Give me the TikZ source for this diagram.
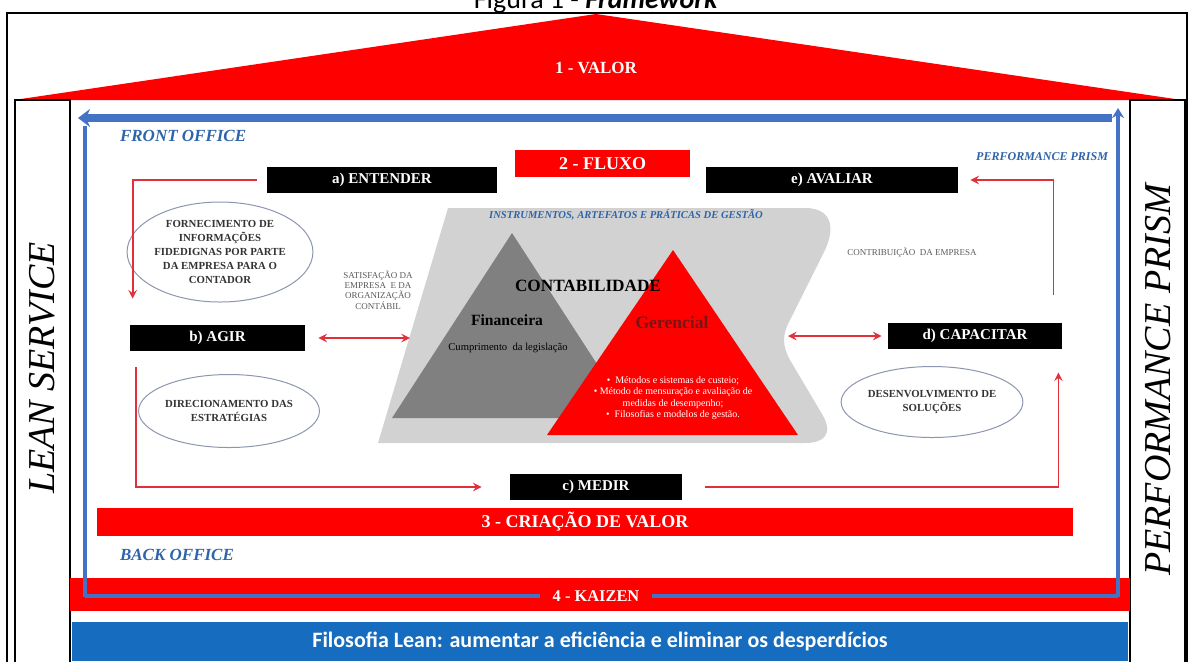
\documentclass[tikz,border=0pt]{standalone}
\usepackage{fontspec}
\setmainfont{Liberation Serif}
\newfontfamily\calibfont{Carlito}
\usetikzlibrary{shapes.geometric, arrows.meta}
\definecolor{loopblue}{RGB}{68,114,196}
\definecolor{barblue}{RGB}{22,108,190}
\definecolor{flowred}{RGB}{226,48,58}
\definecolor{shadegray}{RGB}{210,210,210}
\definecolor{fingray}{RGB}{128,128,128}
\definecolor{officeblue}{RGB}{46,100,170}
\definecolor{ovalline}{RGB}{140,150,175}
\definecolor{gerdark}{RGB}{120,20,20}
\newcommand{\sz}[2]{\fontsize{#1}{#2}\selectfont}

\begin{document}
\begin{tikzpicture}[x=0.5pt, y=-0.5pt,
	blackbox/.style={fill=black, text=white, inner sep=0pt, font=\bfseries\sz{7.5}{9}},
	redbar/.style={fill=red, text=white, inner sep=0pt, font=\bfseries\sz{9}{11}},
	oval/.style={ellipse, draw=ovalline, line width=0.5pt, fill=white, inner sep=0pt, align=center, text=black!80, font=\bfseries\sz{5.4}{7}},
	flow/.style={flowred, line width=0.9pt, -stealth},
	biflow/.style={flowred, line width=0.9pt, stealth-stealth},
	loopline/.style={loopblue, line width=2pt},
	office/.style={officeblue, font=\bfseries\itshape\sz{8.5}{10}},
	note/.style={text=black!65, align=center, font=\sz{4.5}{5.2}},
	panel/.style={draw, line width=0.8pt, fill=white, inner sep=0pt, minimum width=27.5pt, minimum height=282pt}]
		\def\tip{{Stealth[length=6pt, width=9pt]}};
		
		\useasboundingbox (0,0) rectangle (1192,661);
		
		\node[anchor=base, font=\calibfont\sz{14}{16}] (title) at (596,8) {Figura 1 - \textbf{\textit{Framework}}};
		\draw[line width=0.8pt] (7,13) rectangle (1187,668);
		
		\fill[red] (14,100) -- (596,14) -- (1182,100) -- cycle;
		\node[text=white, font=\bfseries\sz{8.5}{10}] (valor) at (596,68) {1 - VALOR};
		
		\node[panel] (leanpanel) at (42.5,382) {};
		\node[panel] (prismpanel) at (1157.5,382) {};
		\node[rotate=90, font=\itshape\sz{19}{21}] (lean) at (42.5,368) {LEAN SERVICE};
		\node[rotate=90, font=\itshape\sz{19}{21}] (prism) at (1158,380) {PERFORMANCE PRISM};
		
		\node[fill=red, inner sep=0pt, minimum width=530pt, minimum height=16.5pt] (band) at (600,594.5) {};
		\node[fill=barblue, text=white, inner sep=0pt, minimum width=528pt, minimum height=19.5pt, font=\calibfont\bfseries\sz{11}{13}] (leanbar) at (600,641.5) {Filosofia Lean: aumentar a eficiência e eliminar os desperdícios};
		
		\node[text=white, inner xsep=6pt, font=\bfseries\sz{8.2}{10}] (kaizen) at (596,596) {4 - KAIZEN};
		\draw[loopblue, line width=4pt, -\tip] (1112,118) -- (78,118);
		\draw[loopline] (85,126) -- (85,597);
		\draw[loopline] (85,596) -- (kaizen.west);
		\draw[loopline] (kaizen.east) -- (1118,596);
		\draw[loopline, -{Stealth[length=5pt, width=6pt]}] (1118,597) -- (1118,108);
		
		\node[office, anchor=west] (front) at (113,136) {FRONT OFFICE};
		\node[office, anchor=west] (back) at (113,555) {BACK OFFICE};
		\node[officeblue, anchor=east, font=\bfseries\itshape\sz{6}{7}] (prismtag) at (1115,157) {PERFORMANCE PRISM};
		
		\node[redbar, minimum width=87.5pt, minimum height=13.5pt] (fluxo) at (602.5,163.5) {2 - FLUXO};
		\node[blackbox, minimum width=115pt, minimum height=13pt] (entender) at (382,180) {a) ENTENDER};
		\node[blackbox, minimum width=126pt, minimum height=13pt] (avaliar) at (832,180) {e) AVALIAR};
		\node[blackbox, minimum width=87.5pt, minimum height=13pt] (agir) at (217.5,338) {b) AGIR};
		\node[blackbox, minimum width=87pt, minimum height=13pt] (capacitar) at (975,336) {d) CAPACITAR};
		\node[blackbox, minimum width=86pt, minimum height=13pt] (medir) at (596,487) {c) MEDIR};
		\node[redbar, minimum width=488pt, minimum height=14pt] (criacao) at (585,522) {3 - CRIAÇÃO DE VALOR};
		
		\fill[shadegray] (448,208) -- (805,208) .. controls (832,208) and (836,228) .. (824,252) -- (790,320) .. controls (782,335) and (782,345) .. (790,360) -- (822,414) .. controls (834,434) and (824,443) .. (805,443) -- (378,443) -- cycle;
		\fill[fingray] (512,233) -- (392,418) -- (632,418) -- cycle;
		\fill[red] (673,250) -- (547,435) -- (798,435) -- cycle;
		
		\node[officeblue, font=\bfseries\itshape\sz{5.3}{6}] (instr) at (626,215) {INSTRUMENTOS, ARTEFATOS E PRÁTICAS DE GESTÃO};
		\node[font=\bfseries\sz{8.6}{10}] (contab) at (588,286) {CONTABILIDADE};
		\node[font=\bfseries\sz{7.8}{9}] (fin) at (507,320) {Financeira};
		\node[font=\sz{5.3}{6}] (legis) at (508,348) {Cumprimento\ \ da legislação};
		\node[text=gerdark, font=\bfseries\sz{8.8}{10}] (ger) at (672,322) {Gerencial};
		\node[text=white, align=center, font=\sz{5}{5.8}] (metodos) at (673,398) {•\ \ Métodos e sistemas de custeio;\\ •\ Método de mensuração e avaliação de\\ medidas de desempenho;\\ •\ \ Filosofias e modelos de gestão.};
		
		\node[oval, minimum width=80pt, minimum height=50pt] (fornec) at (220,252) {FORNECIMENTO DE\\ INFORMAÇÕES\\ FIDEDIGNAS POR PARTE\\ DA EMPRESA PARA O\\ CONTADOR};
		\node[oval, minimum width=86pt, minimum height=36.5pt] (direc) at (229,411) {DIRECIONAMENTO DAS\\ ESTRATÉGIAS};
		\node[oval, minimum width=85.5pt, minimum height=35.5pt] (desenv) at (932,402) {DESENVOLVIMENTO DE\\ SOLUÇÕES};
		\node[note] (satisf) at (378,290) {SATISFAÇÃO DA\\ EMPRESA\ \ E DA\\ ORGANIZAÇÃO\\ CONTÁBIL};
		\node[note] (contrib) at (912,253) {CONTRIBUIÇÃO\ \ DA EMPRESA};
		
		\draw[flow, shorten <=5pt, shorten >=13pt] (entender.west) -| ([xshift=1.5pt]agir.north west);
		\draw[flow, shorten <=8pt, shorten >=14pt] ([xshift=3pt]agir.south west) |- (medir.west);
		\draw[flow, shorten <=11.5pt, shorten >=11.5pt] (medir.east) -| ([xshift=-2pt]capacitar.south east);
		\draw[flow, shorten <=14pt, shorten >=6pt] ([xshift=-4.5pt]capacitar.north east) |- (avaliar.east);
		
		\coordinate (grayleft) at (410,338);
		\coordinate (grayright) at (788,336);
		\draw[biflow, shorten <=6.5pt] (agir.east) -- (grayleft);
		\draw[biflow, shorten >=3pt] (grayright) -- (capacitar.west);
	\end{tikzpicture}
\end{document}
